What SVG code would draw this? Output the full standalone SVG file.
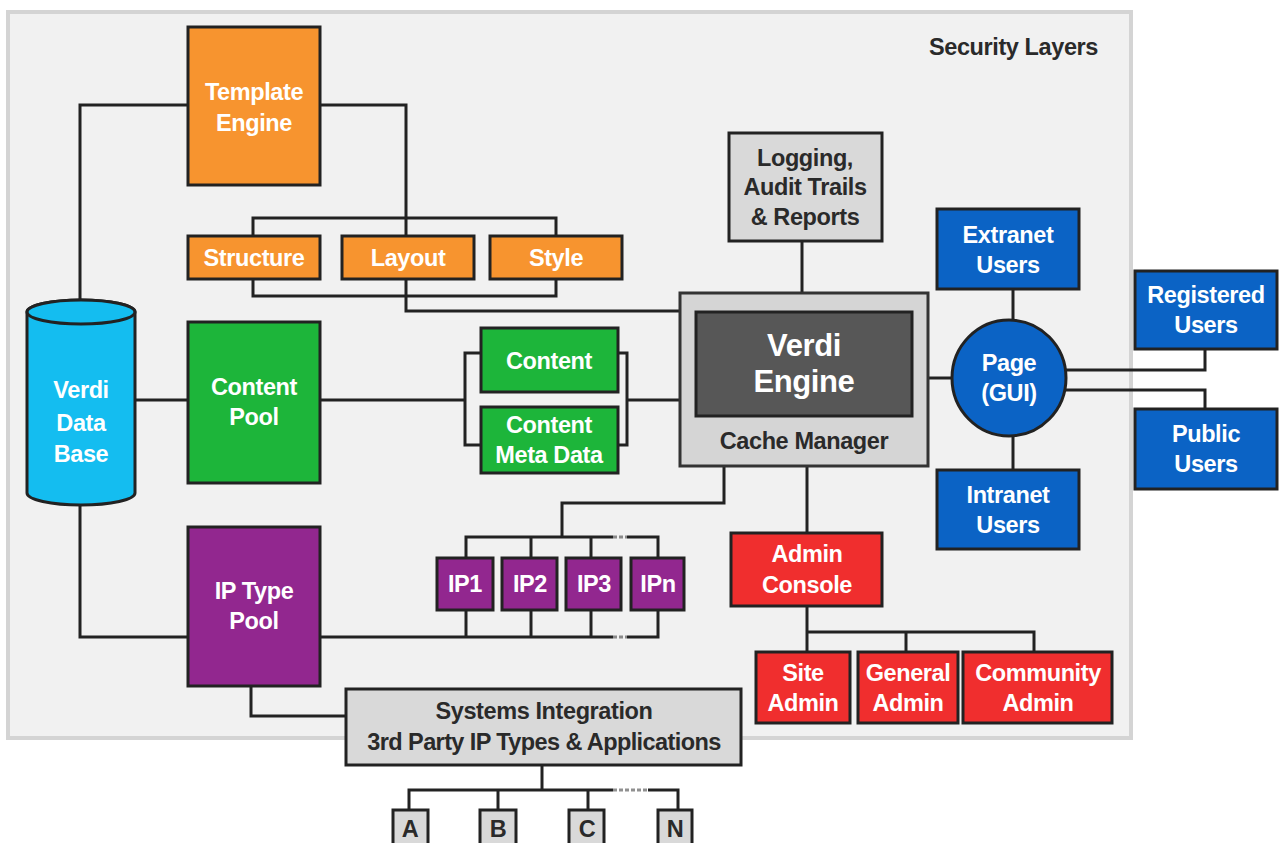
<svg xmlns="http://www.w3.org/2000/svg" width="1287" height="843" viewBox="0 0 1287 843">
<style>
.t{font-family:"Liberation Sans",Arial,sans-serif;font-weight:bold;font-size:23.5px;text-anchor:middle;letter-spacing:-0.4px}
.w{fill:#ffffff}
.d{fill:#2a2a2a}
.box{stroke:#222;stroke-width:3}
.ln{fill:none;stroke:#222;stroke-width:3}
.dash{fill:none;stroke:#222;stroke-width:3;stroke-dasharray:4 2;opacity:0.5}
.orange{fill:#f7942f}
.green{fill:#1db53a}
.purple{fill:#92278f}
.blue{fill:#0b63c5}
.red{fill:#f02e2e}
.grey{fill:#d9d9d9}
</style>
<rect x="0" y="0" width="1287" height="843" fill="#ffffff"/>
<g id="security-layers">
<rect x="8" y="12" width="1123" height="726" fill="#f1f1f1" stroke="#d4d4d4" stroke-width="4"/>
<text class="t d" x="1098" y="55" style="text-anchor:end">Security Layers</text>
</g>
<g id="connectors">
<path class="ln" d="M188,105 H80 V312"/>
<path class="ln" d="M320,105 H406 V236"/>
<path class="ln" d="M253,236 V218 H556 V236"/>
<path class="ln" d="M253,279 V296 H556 V279"/>
<path class="ln" d="M406,279 V311 H680"/>
<path class="ln" d="M135,400 H188"/>
<path class="ln" d="M320,400 H465"/>
<path class="ln" d="M481,353 H465 V445 H481"/>
<path class="ln" d="M618,353 H627 V445 H618"/>
<path class="ln" d="M627,400 H680"/>
<path class="ln" d="M802,241 V293"/>
<path class="ln" d="M928,378 H951"/>
<path class="ln" d="M1013,289 V320"/>
<path class="ln" d="M1013,436 V470"/>
<path class="ln" d="M1066,370 H1205 V349"/>
<path class="ln" d="M1066,390 H1205 V409"/>
<path class="ln" d="M724,466 V503 H562 V537"/>
<path class="ln" d="M466,558 V537 H613"/>
<path class="dash" d="M613,537 H627"/>
<path class="ln" d="M627,537 H658 V558"/>
<path class="ln" d="M531,537 V558"/>
<path class="ln" d="M591,537 V558"/>
<path class="ln" d="M320,637 H613"/>
<path class="dash" d="M613,637 H627"/>
<path class="ln" d="M627,637 H658 V610"/>
<path class="ln" d="M466,610 V637"/>
<path class="ln" d="M531,610 V637"/>
<path class="ln" d="M591,610 V637"/>
<path class="ln" d="M80,505 V637 H188"/>
<path class="ln" d="M251,686 V716 H346"/>
<path class="ln" d="M542,765 V790"/>
<path class="ln" d="M409,810 V790 H613"/>
<path class="dash" d="M613,790 H648"/>
<path class="ln" d="M648,790 H678 V810"/>
<path class="ln" d="M498,790 V810"/>
<path class="ln" d="M588,790 V810"/>
<path class="ln" d="M807,466 V533"/>
<path class="ln" d="M807,606 V652"/>
<path class="ln" d="M807,632 H1034 V652"/>
<path class="ln" d="M906,632 V652"/>
</g>
<g id="template-engine">
<rect class="box orange" x="188" y="27" width="132" height="158"/>
<text class="t w" x="254" y="100">Template</text>
<text class="t w" x="254" y="131">Engine</text>
</g>
<g id="structure">
<rect class="box orange" x="188" y="236" width="132" height="43"/>
<text class="t w" x="254" y="266">Structure</text>
</g>
<g id="layout">
<rect class="box orange" x="342" y="236" width="132" height="43"/>
<text class="t w" x="408" y="266">Layout</text>
</g>
<g id="style">
<rect class="box orange" x="490" y="236" width="132" height="43"/>
<text class="t w" x="556" y="266">Style</text>
</g>
<g id="verdi-database">
<path d="M27,312 V493 A54,12 0 0 0 135,493 V312 A54,12 0 0 0 27,312 Z" fill="#14bdf0" stroke="#222" stroke-width="3"/>
<ellipse cx="81" cy="312" rx="54" ry="12" fill="#14bdf0" stroke="#222" stroke-width="3"/>
<text class="t w" x="81" y="398">Verdi</text>
<text class="t w" x="81" y="431">Data</text>
<text class="t w" x="81" y="462">Base</text>
</g>
<g id="content-pool">
<rect class="box green" x="188" y="322" width="132" height="161"/>
<text class="t w" x="254" y="395">Content</text>
<text class="t w" x="254" y="425">Pool</text>
</g>
<g id="content">
<rect class="box green" x="481" y="328" width="137" height="64"/>
<text class="t w" x="549" y="369">Content</text>
</g>
<g id="content-meta-data">
<rect class="box green" x="481" y="407" width="137" height="66"/>
<text class="t w" x="549" y="433">Content</text>
<text class="t w" x="549" y="463">Meta Data</text>
</g>
<g id="verdi-engine">
<rect x="680" y="293" width="248" height="173" fill="#d5d5d5" stroke="#333" stroke-width="3"/>
<rect x="696" y="312" width="216" height="104" fill="#575757" stroke="#222" stroke-width="3"/>
<text class="t w" x="804" y="356" style="font-size:31px">Verdi</text>
<text class="t w" x="804" y="392" style="font-size:31px">Engine</text>
<text class="t d" x="804" y="449">Cache Manager</text>
</g>
<g id="logging">
<rect class="box grey" x="729" y="133" width="153" height="108"/>
<text class="t d" x="805" y="166">Logging,</text>
<text class="t d" x="805" y="195">Audit Trails</text>
<text class="t d" x="805" y="225">&amp; Reports</text>
</g>
<g id="extranet-users">
<rect class="box blue" x="937" y="209" width="142" height="80"/>
<text class="t w" x="1008" y="243">Extranet</text>
<text class="t w" x="1008" y="273">Users</text>
</g>
<g id="page-gui">
<ellipse cx="1009" cy="378" rx="57" ry="58" fill="#0b63c5" stroke="#222" stroke-width="3"/>
<text class="t w" x="1009" y="371">Page</text>
<text class="t w" x="1009" y="401">(GUI)</text>
</g>
<g id="registered-users">
<rect class="box blue" x="1135" y="271" width="142" height="78"/>
<text class="t w" x="1206" y="303">Registered</text>
<text class="t w" x="1206" y="333">Users</text>
</g>
<g id="public-users">
<rect class="box blue" x="1135" y="409" width="142" height="80"/>
<text class="t w" x="1206" y="442">Public</text>
<text class="t w" x="1206" y="472">Users</text>
</g>
<g id="intranet-users">
<rect class="box blue" x="937" y="470" width="142" height="79"/>
<text class="t w" x="1008" y="503">Intranet</text>
<text class="t w" x="1008" y="533">Users</text>
</g>
<g id="ip-type-pool">
<rect class="box purple" x="188" y="527" width="132" height="159"/>
<text class="t w" x="254" y="599">IP Type</text>
<text class="t w" x="254" y="629">Pool</text>
</g>
<g id="ip1">
<rect class="box purple" x="437" y="558" width="56" height="52"/>
<text class="t w" x="465" y="592">IP1</text>
</g>
<g id="ip2">
<rect class="box purple" x="502" y="558" width="55" height="52"/>
<text class="t w" x="530" y="592">IP2</text>
</g>
<g id="ip3">
<rect class="box purple" x="566" y="558" width="55" height="52"/>
<text class="t w" x="594" y="592">IP3</text>
</g>
<g id="ipn">
<rect class="box purple" x="631" y="558" width="53" height="52"/>
<text class="t w" x="658" y="592">IPn</text>
</g>
<g id="admin-console">
<rect class="box red" x="731" y="533" width="151" height="73"/>
<text class="t w" x="807" y="562">Admin</text>
<text class="t w" x="807" y="593">Console</text>
</g>
<g id="site-admin">
<rect class="box red" x="756" y="652" width="94" height="71"/>
<text class="t w" x="803" y="681">Site</text>
<text class="t w" x="803" y="711">Admin</text>
</g>
<g id="general-admin">
<rect class="box red" x="858" y="652" width="100" height="71"/>
<text class="t w" x="908" y="681">General</text>
<text class="t w" x="908" y="711">Admin</text>
</g>
<g id="community-admin">
<rect class="box red" x="963" y="652" width="149" height="71"/>
<text class="t w" x="1038" y="681">Community</text>
<text class="t w" x="1038" y="711">Admin</text>
</g>
<g id="systems-integration">
<rect class="box grey" x="346" y="689" width="395" height="76"/>
<text class="t d" x="544" y="719">Systems Integration</text>
<text class="t d" x="544" y="750" style="letter-spacing:-0.6px">3rd Party IP Types &amp; Applications</text>
</g>
<g id="node-a">
<rect class="box grey" x="393" y="810" width="35" height="36"/>
<text class="t d" x="410" y="837">A</text>
</g>
<g id="node-b">
<rect class="box grey" x="480" y="810" width="36" height="36"/>
<text class="t d" x="498" y="837">B</text>
</g>
<g id="node-c">
<rect class="box grey" x="569" y="810" width="35" height="36"/>
<text class="t d" x="587" y="837">C</text>
</g>
<g id="node-n">
<rect class="box grey" x="658" y="810" width="34" height="36"/>
<text class="t d" x="675" y="837">N</text>
</g>
</svg>
